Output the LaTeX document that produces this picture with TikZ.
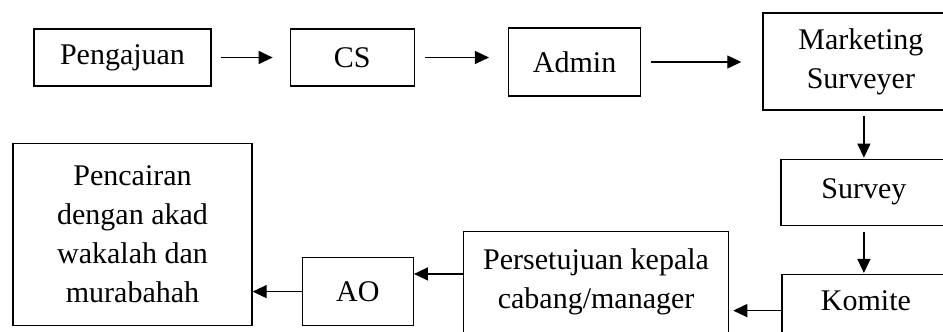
\documentclass[tikz,border=0pt]{standalone}
\usepackage{fontspec}
\setmainfont{Liberation Serif}
\usetikzlibrary{positioning, arrows.meta}

\begin{document}
\begin{tikzpicture}[x=1pt, y=1pt, line width=1.3pt,
  box/.style={draw, rectangle, inner sep=0pt, align=center,
    font=\fontsize{30}{39}\selectfont},
  arr/.style={-{Triangle[length=14pt, width=13pt]}},
  toparr/.style={arr, shorten <=10pt, shorten >=19pt}]
  \useasboundingbox (0,0) rectangle (943,-332);
  \node[box, minimum width=177pt, minimum height=57pt] (peng) at (122.5,-57.5) {Pengajuan};
  \node[box, minimum width=124pt, minimum height=57pt] (cs) [right=78pt of peng] {CS};
  \node[box, minimum width=132pt, minimum height=68pt] (admin) [right=93pt of cs, yshift=-4.5pt] {Admin};
  \node[box, minimum width=196pt, minimum height=97pt] (mkt) [right=121pt of admin, yshift=0.5pt] {Marketing\\Surveyer};
  \node[box, minimum width=166pt, minimum height=66pt] (survey) [below=48pt of mkt, xshift=3pt] {Survey};
  \node[box, minimum width=168pt, inner ysep=16pt, text height=20pt, text depth=60pt] (komite) [below=48pt of survey, xshift=2pt] {Komite};
  \node[box, minimum width=265pt, inner ysep=17pt, text height=59.5pt, text depth=100pt] (pers) [left=52pt of komite.north west, anchor=north east, yshift=43pt] {Persetujuan kepala\\cabang/manager};
  \node[box, minimum width=111pt, minimum height=68pt] (ao) [left=49pt of pers.north west, anchor=north east, yshift=-26pt] {AO};
  \node[box, minimum width=239pt, minimum height=182pt] (penc) [left=49pt of ao.south west, anchor=south east] {Pencairan\\dengan akad\\wakalah dan\\murabahah};
  \path (ao.north east) ++(0,-17) coordinate (aoin);

  \path[toparr]
  (peng) edge [shorten <=9pt, shorten >=17pt] (cs)
  (cs) edge (cs -| admin.west)
  (admin) edge [shorten >=21pt] (admin -| mkt.west);
  \path[arr]
  (survey |- mkt.south) edge [shorten <=5pt, shorten >=1pt] (survey.north)
  (survey.south) edge [shorten <=6pt, shorten >=1pt] (survey.south |- komite.north)
  (komite.base west) edge [shorten >=4pt] (komite.base west -| pers.east)
  (aoin -| pers.west) edge (aoin)
  (ao) edge (ao -| penc.east);
\end{tikzpicture}
\end{document}
